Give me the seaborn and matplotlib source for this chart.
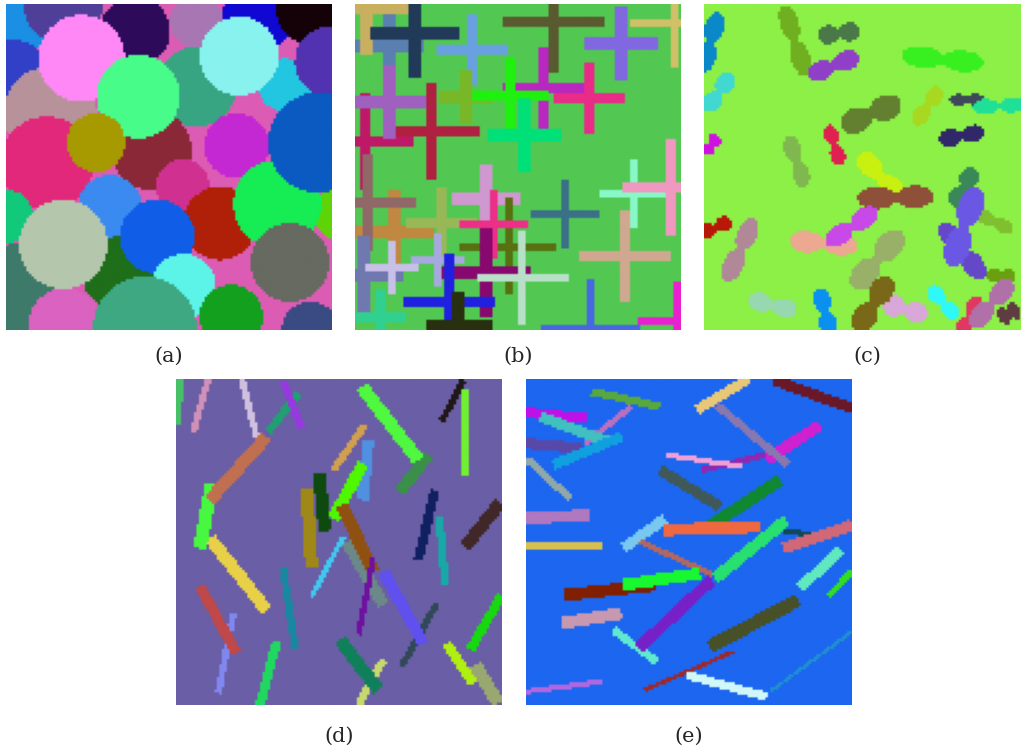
import numpy as np
import matplotlib
matplotlib.use('Agg')
import matplotlib.pyplot as plt
from matplotlib.colors import to_rgb
import seaborn as sns

# shape coordinates at 3x zoom (panel origin given per panel)

# (a) overlapping discs
a_bg = '#dc5cb4'
a_x = [40, 190, 40, 150, 405, 245, 590, 780, 930, 590, 855, 990, 718, 455, 415, 140, 288, 710,
       548, 20, 330, 660, 1020, 832, 955, 355, 472, 60, 190, 550, 870, 195, 435, 694, 930]
a_y = [60, 10, 230, 340, 95, 175, 65, 40, 30, 260, 255, 185, 168, 450, 290, 490, 428, 437,
       558, 650, 620, 670, 640, 612, 428, 820, 710, 870, 733, 860, 787, 975, 985, 950, 990]
a_r = [110, 120, 110, 140, 105, 130, 80, 110, 100, 120, 80, 105, 118, 120, 125, 140, 88, 97,
       80, 80, 95, 110, 80, 132, 150, 110, 112, 140, 133, 98, 118, 110, 155, 95, 85]
a_colors = ['#1a8fe3', '#4f3f99', '#3240c8', '#b8929a', '#2e0b5a', '#ff88f6', '#a876b2',
            '#1008d2', '#150208', '#38a582', '#22c6e0', '#5232b0', '#88f2ee', '#8a2838',
            '#48fc8a', '#e2287a', '#a69a00', '#c428d2', '#d03090', '#12c87a', '#3a8af0',
            '#b02008', '#5ed406', '#16ec54', '#0a5ac2', '#1e6e1a', '#105ee8', '#3e7a6a',
            '#b4c6ac', '#5cf4e8', '#666a60', '#da62c0', '#3ea882', '#12a01e', '#3a4a82']

# (b) plus signs: centre, arm half-length, arm thickness
b_bg = '#52c852'
b_x = [118, 50, 193, 366, 611, 813, 973, 245, 46, 118, 348, 582, 718, 481, 522, 133, 53, 275,
       408, 645, 477, 430, 851, 961, 824, 42, 126, 264, 408, 516, 298, 91, 326, 722, 982]
b_y = [137, 28, 99, 150, 65, 130, 68, 394, 422, 306, 292, 264, 295, 286, 404, 693, 607, 670,
       595, 642, 741, 673, 581, 561, 770, 826, 802, 779, 817, 833, 905, 950, 978, 985, 964]
b_len = [100, 140, 133, 110, 152, 114, 132, 145, 144, 110, 80, 122, 110, 114, 113, 122, 147, 105,
         104, 103, 145, 103, 100, 143, 137, 118, 78, 78, 135, 138, 141, 80, 100, 148, 120]
b_thick = [36, 36, 38, 32, 30, 36, 25, 32, 33, 36, 36, 34, 32, 30, 36, 37, 30, 30,
           36, 25, 23, 25, 22, 33, 30, 38, 24, 22, 36, 23, 30, 32, 34, 28, 26]
b_colors = ['#5a80b0', '#c8b060', '#203a58', '#68a0e0', '#5a5a30', '#8068e0', '#d0c068',
            '#b02040', '#c01868', '#a060c0', '#78b828', '#b828c0', '#e82c88', '#20f010',
            '#00e078', '#c08840', '#906868', '#98b858', '#d098d0', '#3a7088', '#587010',
            '#ec3088', '#88f8c8', '#f098c0', '#d0a890', '#7078b0', '#c8c0e8', '#a8a8e0',
            '#880870', '#b8e0c8', '#2020e0', '#30d090', '#283010', '#4868e0', '#e820d0']

# (c) dumbbells: two lobe centres and lobe half-thickness
c_bg = '#8cf046'
c_x1 = [45, 265, 380, 355, 78, 655, 705, 770, 850, 460, 45, 392, 745, 275, 505, 520, 810, 850,
        750, 815, 75, 145, 310, 500, 575, 880, 705, 575, 550, 175, 365, 825, 910, 945]
c_y1 = [75, 60, 105, 215, 245, 170, 285, 300, 320, 365, 420, 400, 415, 440, 490, 595, 530, 650,
        705, 610, 670, 695, 725, 650, 730, 825, 880, 915, 865, 905, 895, 915, 870, 930]
c_x2 = [18, 305, 455, 445, 35, 800, 660, 830, 945, 565, 20, 415, 825, 305, 580, 655, 770, 915,
        825, 770, 20, 95, 430, 410, 490, 930, 755, 655, 490, 260, 385, 790, 840, 910]
c_y2 = [180, 185, 95, 180, 310, 185, 350, 298, 315, 320, 450, 470, 400, 530, 570, 590, 595, 680,
        800, 750, 695, 805, 735, 710, 830, 830, 935, 940, 960, 925, 975, 985, 950, 950]
c_r = [28, 28, 28, 30, 28, 32, 24, 18, 22, 38, 22, 22, 26, 25, 32, 33, 28, 20,
       30, 38, 22, 30, 32, 30, 38, 22, 24, 32, 35, 28, 26, 24, 30, 28]
c_colors = ['#0a88c8', '#70b020', '#4a7848', '#9040c8', '#40d8d0', '#38f020', '#a8d820',
            '#3e4858', '#20e098', '#628030', '#d010e0', '#e02050', '#302868', '#80b850',
            '#c8f010', '#8e5038', '#3a8858', '#80c030', '#6448c8', '#6a58e4', '#b81808',
            '#b08898', '#eca890', '#c848e8', '#98b068', '#6aa010', '#30f8f8', '#d8a8d8',
            '#786818', '#98d8b0', '#0a90f0', '#e03860', '#b070a8', '#5e3c40']

# (d) sticks: end points and width
d_bg = '#6a5ea6'
d_x1 = [30, 115, 215, 385, 340, 120, 125, 290, 880, 885, 775, 575, 585, 595, 410, 447, 580, 530,
        515, 520, 610, 795, 808, 990, 340, 190, 90, 800, 640, 996, 640, 510, 320, 830, 915]
d_y1 = [12, 12, 12, 55, 20, 490, 325, 185, 15, 45, 240, 35, 150, 195, 340, 295, 265, 500,
        390, 485, 550, 345, 425, 385, 580, 715, 635, 685, 590, 660, 855, 795, 800, 805, 870]
d_x2 = [22, 70, 260, 295, 395, 290, 90, 120, 815, 885, 690, 745, 490, 578, 425, 465, 490, 640,
        610, 425, 565, 745, 825, 885, 375, 145, 200, 695, 760, 900, 565, 625, 270, 910, 985]
d_y2 = [150, 170, 185, 170, 160, 705, 520, 375, 140, 300, 350, 255, 285, 375, 580, 468, 430, 690,
        590, 665, 780, 555, 630, 515, 820, 955, 835, 875, 805, 825, 990, 945, 990, 925, 985]
d_w = [22, 20, 20, 24, 22, 38, 40, 38, 20, 20, 35, 40, 22, 35, 38, 38, 36, 36,
       38, 16, 18, 28, 24, 38, 22, 20, 32, 20, 35, 28, 24, 38, 28, 30, 40]
d_colors = ['#48c068', '#d090b8', '#d0c0e0', '#20a070', '#9838e0', '#e8d048', '#48f840',
            '#c07050', '#201818', '#70f030', '#3a9048', '#50f840', '#d0a050', '#5090e0',
            '#a08818', '#0e4a10', '#50f800', '#6c8888', '#905010', '#40c8f0', '#7010a0',
            '#102060', '#18a8a8', '#402828', '#1888a0', '#8088f0', '#c04848', '#304858',
            '#6050f0', '#18d810', '#c8d870', '#10805a', '#20d860', '#b0f010', '#98a870']

# (e) sticks: end points and width
e_bg = '#1c66f0'
e_x1 = [18, 335, 60, 18, 305, 215, 685, 760, 900, 590, 18, 545, 440, 420, 780, 18, 18, 435,
        360, 430, 745, 996, 800, 135, 310, 960, 996, 125, 280, 575, 835, 640, 500, 996, 18]
e_y1 = [112, 95, 125, 205, 185, 50, 12, 15, 150, 90, 250, 285, 240, 285, 315, 430, 510, 430,
        500, 465, 460, 450, 435, 660, 630, 525, 590, 745, 765, 615, 675, 830, 900, 770, 950]
e_x2 = [200, 195, 265, 185, 100, 420, 530, 996, 740, 805, 150, 735, 670, 600, 560, 210, 245, 310,
        580, 720, 880, 790, 585, 410, 540, 840, 925, 305, 410, 355, 570, 375, 740, 750, 245]
e_y2 = [130, 205, 200, 220, 270, 95, 105, 100, 255, 270, 370, 240, 275, 395, 460, 420, 512, 520,
        600, 455, 480, 520, 610, 630, 595, 640, 665, 715, 860, 820, 815, 945, 965, 950, 920]
e_w = [30, 18, 32, 32, 30, 24, 30, 32, 35, 24, 22, 18, 16, 32, 36, 35, 22, 32,
       18, 36, 16, 34, 36, 36, 36, 32, 20, 36, 24, 36, 40, 12, 26, 10, 16]
e_colors = ['#c010e8', '#b870c0', '#40c0c0', '#5848a8', '#10a0e0', '#58a840', '#e8c878',
            '#6a1828', '#d020d0', '#8878b0', '#90a8a8', '#9028b0', '#f0a0d8', '#405858',
            '#108830', '#b078c0', '#d8c050', '#78c8f0', '#b06860', '#f06840', '#104858',
            '#d06878', '#28e070', '#802000', '#18f830', '#60e8c0', '#30e020', '#c898b0',
            '#60e8d0', '#7820c8', '#485028', '#a02828', '#d0f8f8', '#2090d0', '#b068e0']

labels = ['(a)', '(b)', '(c)', '(d)', '(e)']

N = 128        # raster size of every panel
SPAN = 978.0   # panel side in reading units


def grid(x0, y0):
    c = (np.arange(N) + 0.5) * SPAN / N
    return np.meshgrid(c + x0, c + y0)


def axis_coords(X, Y, x1, y1, x2, y2):
    dx, dy = x2 - x1, y2 - y1
    L = np.hypot(dx, dy)
    ux, uy = dx / L, dy / L
    s = (X - x1) * ux + (Y - y1) * uy
    p = -(X - x1) * uy + (Y - y1) * ux
    return s, p, L


def bar_mask(X, Y, x1, y1, x2, y2, w):
    s, p, L = axis_coords(X, Y, x1, y1, x2, y2)
    return (s >= 0) & (s <= L) & (np.abs(p) <= w / 2)


def dumbbell_mask(X, Y, x1, y1, x2, y2, r):
    # two elongated lobes meeting at the middle, joined by a waist
    s, p, L = axis_coords(X, Y, x1, y1, x2, y2)
    a = 0.425 * L
    c1, c2 = L / 2 - a, L / 2 + a
    m = ((s - c1) / a) ** 2 + (p / r) ** 2 <= 1
    m |= ((s - c2) / a) ** 2 + (p / r) ** 2 <= 1
    m |= (np.abs(s - L / 2) <= a) & (np.abs(p) <= 0.45 * r)
    return m


def blank(bg):
    img = np.zeros((N, N, 3))
    img[:] = to_rgb(bg)
    return img


# panel (a)
X, Y = grid(18, 12)
img_a = blank(a_bg)
for x, y, r, col in zip(a_x, a_y, a_r, a_colors):
    img_a[(X - x) ** 2 + (Y - y) ** 2 <= r * r] = to_rgb(col)

# panel (b)
X, Y = grid(15, 12)
img_b = blank(b_bg)
for x, y, L, t, col in zip(b_x, b_y, b_len, b_thick, b_colors):
    m = ((np.abs(X - x) <= L) & (np.abs(Y - y) <= t / 2)) | \
        ((np.abs(Y - y) <= L) & (np.abs(X - x) <= t / 2))
    img_b[m] = to_rgb(col)

# panel (c)
X, Y = grid(12, 12)
img_c = blank(c_bg)
for x1, y1, x2, y2, r, col in zip(c_x1, c_y1, c_x2, c_y2, c_r, c_colors):
    img_c[dumbbell_mask(X, Y, x1, y1, x2, y2, r)] = to_rgb(col)

# panels (d) and (e)
X, Y = grid(18, 12)
img_d = blank(d_bg)
for x1, y1, x2, y2, w, col in zip(d_x1, d_y1, d_x2, d_y2, d_w, d_colors):
    img_d[bar_mask(X, Y, x1, y1, x2, y2, w)] = to_rgb(col)

img_e = blank(e_bg)
for x1, y1, x2, y2, w, col in zip(e_x1, e_y1, e_x2, e_y2, e_w, e_colors):
    img_e[bar_mask(X, Y, x1, y1, x2, y2, w)] = to_rgb(col)

sns.set_theme(style='white')
plt.rcParams['font.family'] = ['DejaVu Serif']

W, H = 1021, 749
fig = plt.figure(figsize=(W / 100, H / 100), dpi=100)
fig.patch.set_facecolor('white')

# left/top pixel of each panel, label centre
boxes = [(6, 4), (355, 4), (704, 4), (176, 379), (526, 379)]
label_y = [356, 356, 356, 736, 736]
side = 326
for img, (l, t), lab, ly in zip([img_a, img_b, img_c, img_d, img_e], boxes, labels, label_y):
    ax = fig.add_axes([l / W, 1 - (t + side) / H, side / W, side / H])
    ax.imshow(img, interpolation='antialiased')
    ax.set_axis_off()
    fig.text((l + side / 2) / W, 1 - ly / H, lab, ha='center', va='center', fontsize=15)

fig.savefig('out.png', dpi=100)
